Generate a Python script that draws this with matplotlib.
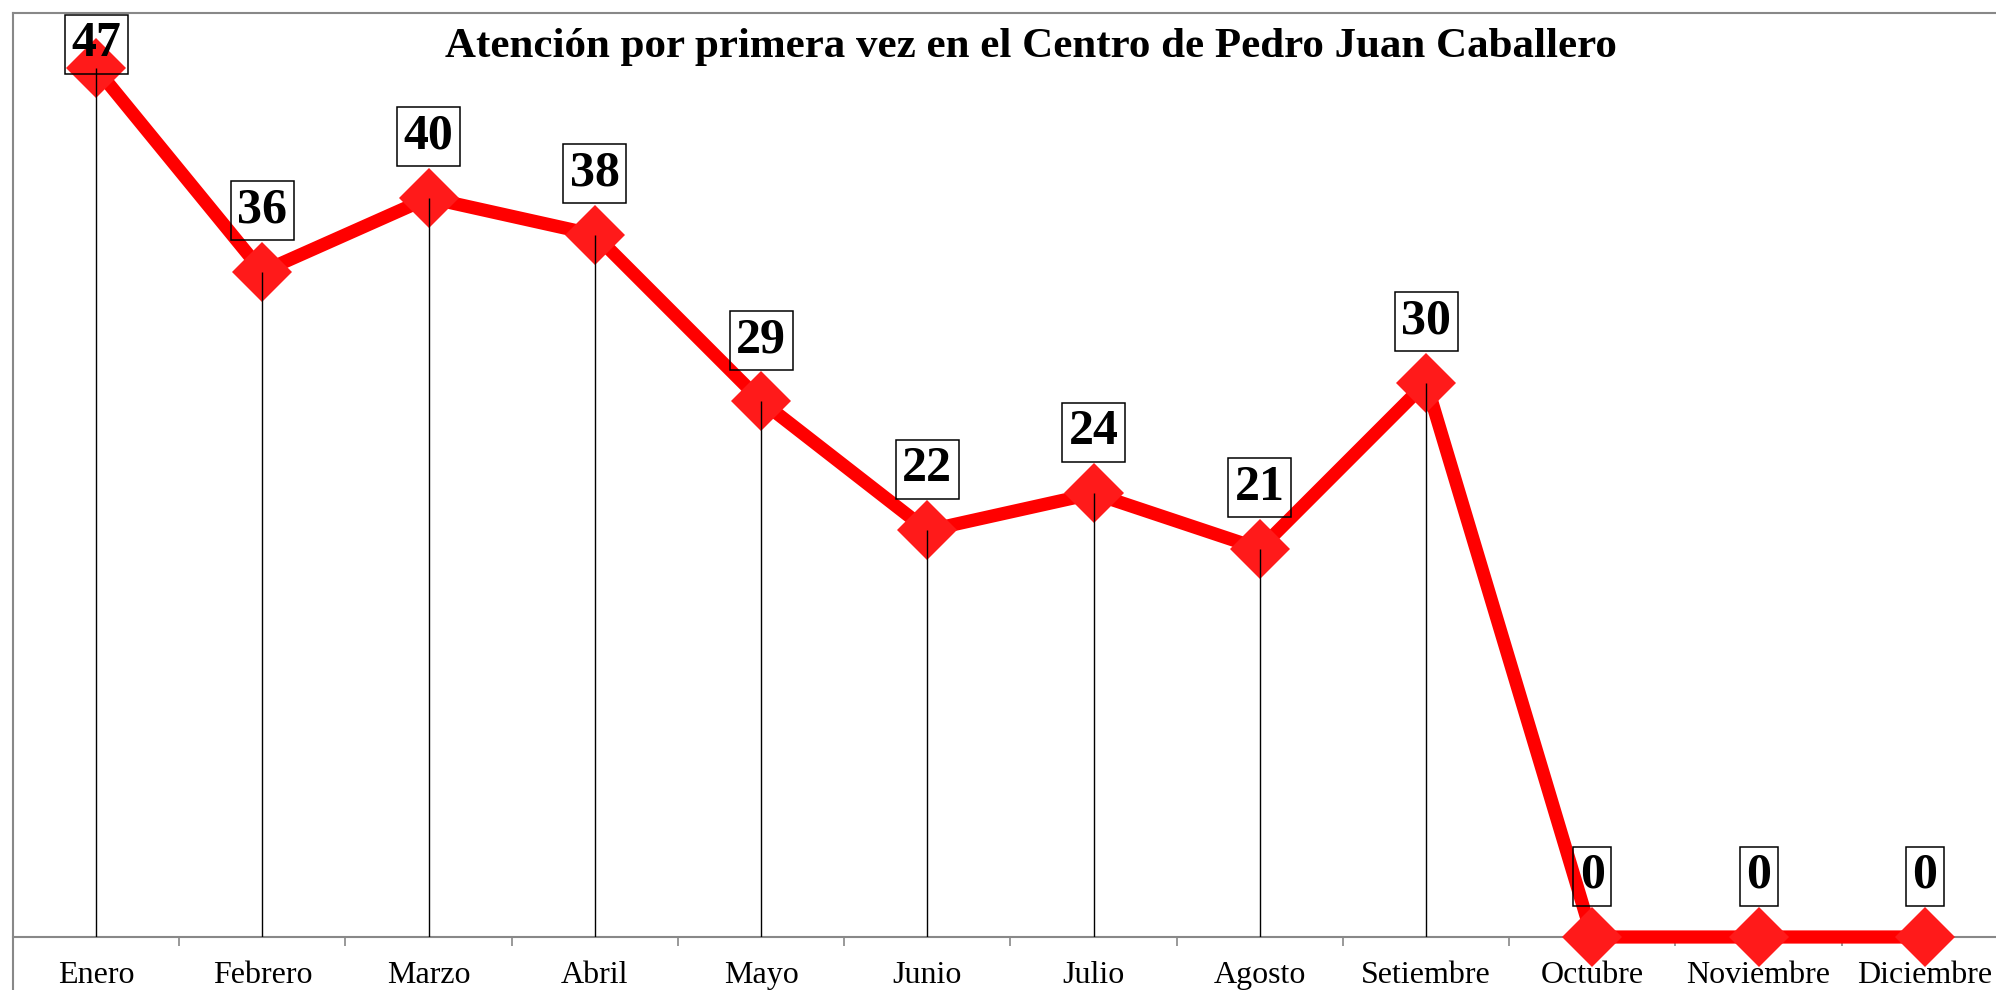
import matplotlib
matplotlib.use('Agg')
import matplotlib.pyplot as plt
from matplotlib.lines import Line2D

# Data
months = ['Enero', 'Febrero', 'Marzo', 'Abril', 'Mayo', 'Junio', 'Julio',
          'Agosto', 'Setiembre', 'Octubre', 'Noviembre', 'Diciembre']
values = [47, 36, 40, 38, 29, 22, 24, 21, 30, 0, 0, 0]
title = 'Atención por primera vez en el Centro de Pedro Juan Caballero'

plt.rcParams['font.family'] = ['Liberation Serif', 'DejaVu Serif']

W, H = 1996, 990
fig = plt.figure(figsize=(W / 100, H / 100), dpi=100)
ax = fig.add_axes([13 / W, 53 / H, 1995 / W, 924 / H])

x = list(range(len(months)))

ax.set_xlim(-0.5, len(months) - 0.5)
ax.set_ylim(0, 50)

# drop lines from each point to the axis
ax.vlines(x, 0, values, colors='black', linewidth=1.0, zorder=4)

# main line with diamond markers
ax.plot(x, values, color='#ff0000', linewidth=9.5, solid_joinstyle='miter',
        marker='D', markersize=31, markerfacecolor='#ff1a1a',
        markeredgewidth=0, clip_on=False, zorder=3)

# value labels in boxes, kept inside the plot area like Excel does
top_px = ax.transAxes.transform((0, 1))[1]
box_h = 54  # text height above anchor plus top pad, pixels
for xi, v in zip(x, values):
    y_px = ax.transData.transform((xi, v))[1]
    off_px = 38
    if y_px + off_px + box_h > top_px:
        off_px = top_px - box_h - y_px
    ax.annotate(str(v), (xi, v), xytext=(0, off_px * 72 / 100), textcoords='offset points',
                ha='center', va='bottom', fontsize=36, fontweight='bold',
                bbox=dict(boxstyle='square,pad=0.13', facecolor='none',
                          edgecolor='black', linewidth=1.1),
                zorder=5, annotation_clip=False)

ax.set_xticks(x)
ax.set_xticklabels(months, fontsize=23)
ax.set_xticks([i + 0.5 for i in x[:-1]], minor=True)
ax.tick_params(axis='x', which='major', length=0, pad=17)
ax.tick_params(axis='x', which='minor', length=6.5, width=1.2, color='#888888')
ax.set_yticks([])

for side in ['top', 'left', 'right']:
    ax.spines[side].set_visible(False)
ax.spines['bottom'].set_color('#888888')
ax.spines['bottom'].set_linewidth(1.5)

# outer chart border (left and top)
fig.add_artist(Line2D([13 / W, 13 / W], [0, 1 - 13 / H], transform=fig.transFigure,
                      color='#888888', linewidth=1.5))
fig.add_artist(Line2D([13 / W, 1], [1 - 13 / H, 1 - 13 / H], transform=fig.transFigure,
                      color='#888888', linewidth=1.5))

fig.text(1031 / W, 1 - 47 / H, title, ha='center', va='center',
         fontsize=31, fontweight='bold')

fig.savefig('out.png', dpi=100)
